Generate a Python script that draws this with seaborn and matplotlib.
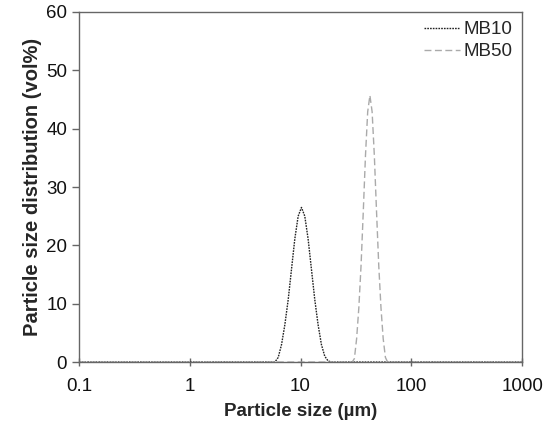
import numpy as np
import pandas as pd
import matplotlib
matplotlib.use("Agg")
import matplotlib.pyplot as plt
import seaborn as sns
from matplotlib.ticker import FixedLocator, FixedFormatter, NullLocator

# -----------------------------
# DATA
# -----------------------------
mb10_size = [0.1, 1.0, 5.0, 5.48, 5.87, 6.29, 6.74, 7.22, 7.74, 8.29, 8.88, 9.52, 10.2,
             10.93, 11.71, 12.55, 13.45, 14.41, 15.44, 16.55, 17.73, 19.0, 20.0, 100.0, 1000.0]
mb10_vol = [0, 0, 0, 0, 0, 0.8, 3.0, 6.4, 10.7, 15.9, 21.1, 25.0, 26.5,
            25.0, 21.1, 15.9, 10.7, 6.4, 3.0, 1.0, 0.2, 0, 0, 0, 0]

mb50_size = [0.1, 1.0, 10.0, 27.96, 29.27, 30.64, 32.09, 33.60, 35.18, 36.84, 38.58, 40.40,
             42.3, 44.29, 46.38, 48.57, 50.85, 53.25, 55.76, 58.39, 61.13, 64.04, 100.0, 1000.0]
mb50_vol = [0, 0, 0, 0, 0, 0.6, 4.0, 9.3, 16.5, 25.7, 35.4, 42.9,
            45.7, 42.9, 35.4, 25.7, 16.5, 9.3, 4.0, 0.8, 0, 0, 0, 0]

x_ticks = [0.1, 1, 10, 100, 1000]
x_labels = ["0.1", "1", "10", "100", "1000"]
y_ticks = [0, 10, 20, 30, 40, 50, 60]

df10 = pd.DataFrame({"size": mb10_size, "vol": mb10_vol})
df50 = pd.DataFrame({"size": mb50_size, "vol": mb50_vol})

# -----------------------------
# PLOT
# -----------------------------
sns.set_style("ticks")
plt.rcParams["font.family"] = ["Liberation Sans", "DejaVu Sans"]

fig = plt.figure(figsize=(5.56, 4.28), dpi=100)
ax = fig.add_axes([0.142, 0.154, 0.797, 0.818])

sns.lineplot(data=df10, x="size", y="vol", ax=ax, color="#222222",
             linestyle=(0, (1.2, 0.8)), linewidth=1.0, label="MB10")
sns.lineplot(data=df50, x="size", y="vol", ax=ax, color="#aaaaaa",
             linestyle=(0, (5, 2.5)), linewidth=1.0, label="MB50")

ax.set_xscale("log")
ax.set_xlim(0.1, 1000)
ax.set_ylim(0, 60)
ax.xaxis.set_major_locator(FixedLocator(x_ticks))
ax.xaxis.set_major_formatter(FixedFormatter(x_labels))
ax.xaxis.set_minor_locator(NullLocator())
ax.set_yticks(y_ticks)

for s in ax.spines.values():
    s.set_color("#666666")
    s.set_linewidth(1.0)
ax.tick_params(axis="both", colors="#666666", labelcolor="#111111",
               labelsize=13.5, width=1.0)
ax.tick_params(axis="y", length=5, pad=3.5)
ax.tick_params(axis="x", direction="inout", length=6, pad=8.5)

ax.set_xlabel("Particle size (\u00b5m)", fontsize=13.5, fontweight="bold", labelpad=6)
ax.set_ylabel("Particle size distribution (vol%)", fontsize=14.5, fontweight="bold", labelpad=3)

leg = ax.legend(loc="upper right", frameon=False, fontsize=13.5,
                handlelength=1.9, handletextpad=0.2, borderaxespad=0.1,
                labelspacing=0.25)

fig.savefig("out.png", dpi=100)
